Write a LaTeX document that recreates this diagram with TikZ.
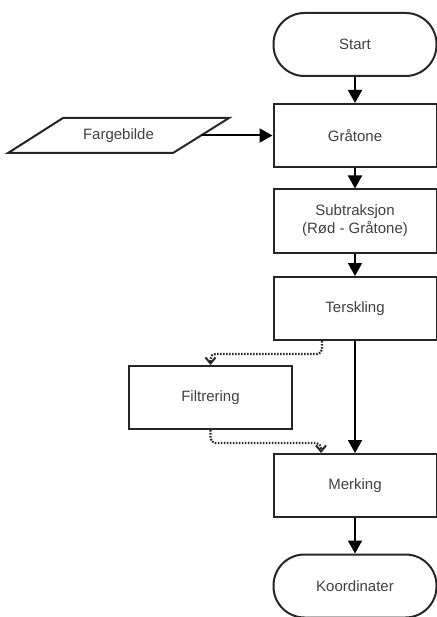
\documentclass[tikz,border=0pt]{standalone}
\usepackage{fontspec}
\setmainfont{Liberation Sans}
\usetikzlibrary{arrows.meta}
\tikzset{
  base/.style={draw=black!85, line width=2pt, text=black!75, font=\fontsize{15}{18}\selectfont, align=center},
  stepbox/.style={base, rectangle, minimum width=163pt, minimum height=63pt},
  termbox/.style={base, rectangle, rounded corners=31pt, minimum width=163pt, minimum height=63pt},
  flow/.style={line width=2pt, draw=black, -{Triangle[length=13pt,width=14pt]}},
  optflow/.style={line width=2.2pt, draw=black!85, dash pattern=on 1.6pt off 1.4pt, rounded corners=5pt, -{Straight Barb[length=6pt,width=10pt,line width=2pt]}}
}
\begin{document}
\begin{tikzpicture}[x=1pt,y=-1pt]
  \useasboundingbox (0,0) rectangle (436,617);
  \node [termbox] (start) at (355,44.5) {Start};
  \node [stepbox] (gra) at (355,135.5) {Gråtone};
  \node [stepbox] (sub) at (355,221) {Subtraksjon\\(Rød - Gråtone)};
  \node [stepbox] (ter) at (355,308.5) {Terskling};
  \node [stepbox] (fil) at (210.5,397.5) {Filtrering};
  \node [stepbox] (mer) at (355,485.5) {Merking};
  \node [termbox] (koo) at (355,586) {Koordinater};
  \node [base, draw=none, minimum width=163pt, minimum height=33pt] (fb) at (118.5,135.5) {Fargebilde};
  \draw [base] ([xshift=27pt]fb.north west) -- ([xshift=28pt]fb.north east)
    -- ([xshift=-28pt]fb.south east) -- ([xshift=-28pt]fb.south west) -- cycle;
  \draw [flow] (start) -- (gra);
  \draw [flow] (fb.east) -- (gra);
  \draw [flow] (gra) -- (sub);
  \draw [flow] (sub) -- (ter);
  \draw [flow] (ter) -- (mer);
  \draw [flow] (mer) -- (koo);
  \draw [optflow] ([xshift=-33pt]ter.south) -- ++(0,13) -| (fil.north);
  \draw [optflow] (fil.south) -- ++(0,13) -| ([xshift=-34pt]mer.north);
\end{tikzpicture}
\end{document}
